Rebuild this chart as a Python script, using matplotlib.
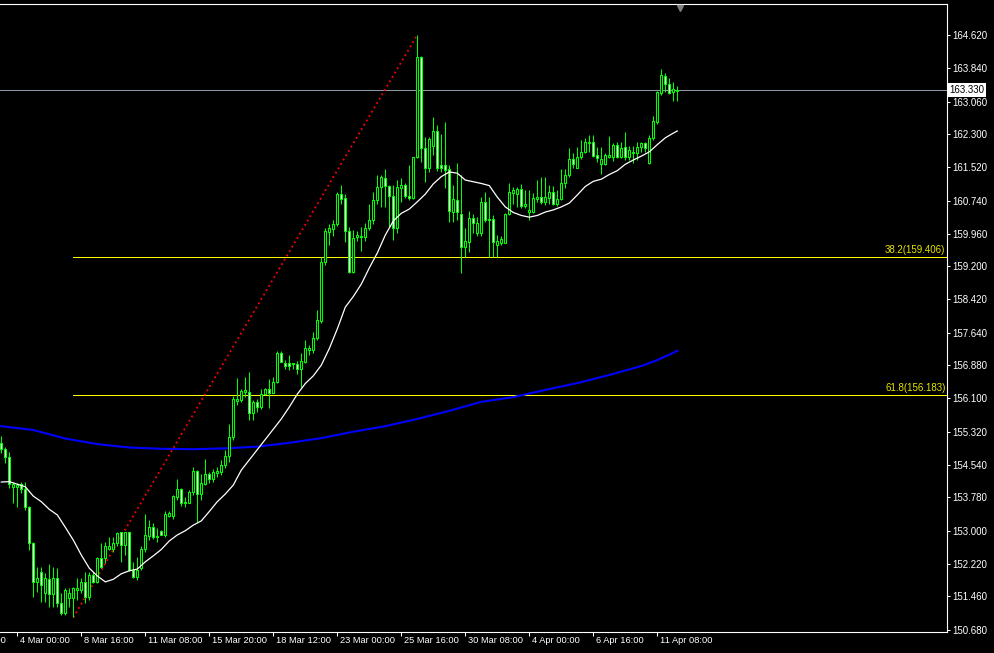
import matplotlib
matplotlib.use("Agg")
import matplotlib.pyplot as plt
import matplotlib.transforms as mtransforms
from matplotlib.patches import Rectangle
from matplotlib.collections import PatchCollection
import numpy as np

# ---------------- data (GBPJPY H4) ----------------
opens = [155.06, 154.92, 154.72, 154.03, 154.03, 154.09, 153.98, 153.56, 152.71, 151.80,
         152.02, 151.53, 151.87, 151.52, 151.89, 151.31, 151.07, 151.42, 151.42, 151.61,
         151.61, 151.80, 151.45, 151.96, 151.80, 152.35, 152.36, 152.58, 152.56, 152.71,
         152.96, 152.67, 152.97, 152.09, 151.92, 152.12, 152.56, 152.88, 153.08, 152.85,
         152.99, 152.90, 153.35, 153.35, 153.80, 153.97, 153.68, 153.66, 153.90, 154.40,
         153.85, 154.09, 154.33, 154.21, 154.36, 154.38, 154.54, 154.76, 155.20, 156.05,
         156.06, 156.26, 156.26, 155.76, 156.01, 155.89, 156.20, 156.32, 156.23, 156.49,
         157.16, 156.94, 156.92, 156.92, 156.91, 156.80, 156.96, 157.24, 157.24, 157.51,
         157.92, 159.31, 160.01, 160.07, 160.18, 160.89, 160.79, 160.03, 159.06, 159.88,
         159.89, 159.89, 160.09, 160.28, 160.75, 161.06, 161.26, 161.09, 160.85, 160.09,
         161.04, 161.10, 160.85, 160.81, 161.75, 164.10, 161.96, 161.51, 162.02, 162.37,
         161.57, 161.57, 161.48, 160.48, 160.75, 160.42, 159.66, 159.77, 160.32, 159.97,
         159.97, 160.71, 160.31, 160.31, 159.70, 159.74, 159.75, 160.42, 160.91, 160.89,
         161.00, 160.60, 160.48, 160.48, 160.77, 160.82, 160.71, 160.81, 160.95, 160.67,
         160.77, 161.14, 161.34, 161.71, 161.51, 161.77, 161.87, 162.08, 162.11, 161.81,
         161.60, 161.60, 161.76, 161.76, 162.04, 161.76, 161.99, 161.77, 161.85, 161.86,
         161.99, 162.08, 161.63, 162.20, 162.59, 163.25, 163.66, 163.46, 163.29, 163.31]
highs = [155.22, 154.97, 154.85, 154.15, 154.12, 154.13, 154.14, 153.58, 152.73, 152.16,
         152.16, 152.01, 152.22, 152.16, 152.13, 151.54, 151.66, 151.66, 151.69, 151.89,
         151.89, 152.02, 152.02, 152.02, 152.39, 152.72, 152.74, 152.85, 152.85, 152.98,
         152.98, 152.98, 152.98, 152.27, 152.39, 152.63, 153.38, 153.25, 153.18, 153.06,
         153.02, 153.45, 153.45, 153.84, 154.21, 153.99, 153.80, 153.95, 154.50, 154.42,
         154.33, 154.68, 154.38, 154.45, 154.50, 154.66, 154.89, 155.49, 156.16, 156.57,
         156.31, 156.61, 156.73, 156.06, 156.08, 156.32, 156.35, 156.55, 156.61, 157.21,
         157.21, 156.99, 157.12, 156.93, 156.98, 157.17, 157.48, 157.35, 157.66, 158.17,
         159.41, 160.09, 160.18, 160.28, 160.95, 161.10, 160.89, 160.13, 160.05, 160.03,
         160.13, 160.21, 160.67, 160.93, 161.34, 161.34, 161.48, 161.10, 161.10, 161.22,
         161.26, 161.14, 161.57, 161.76, 164.62, 164.13, 162.24, 162.24, 162.70, 162.51,
         162.29, 162.59, 161.57, 161.10, 161.62, 161.35, 160.09, 160.50, 160.42, 160.36,
         160.83, 160.95, 160.83, 160.40, 159.93, 159.91, 160.44, 161.16, 161.06, 161.06,
         161.13, 160.99, 160.99, 160.91, 161.22, 161.30, 161.30, 161.10, 161.09, 160.99,
         161.49, 161.49, 161.96, 161.85, 162.00, 162.16, 162.20, 162.28, 162.28, 161.99,
         161.99, 161.85, 162.25, 162.08, 162.12, 162.12, 162.34, 162.02, 162.02, 162.12,
         162.12, 162.12, 162.28, 162.71, 163.31, 163.82, 163.72, 163.61, 163.53, 163.42]
lows = [154.82, 154.59, 153.99, 153.65, 153.56, 153.88, 153.49, 152.55, 151.45, 151.57,
        151.34, 151.34, 151.22, 151.22, 151.22, 151.02, 151.02, 151.21, 150.97, 151.38,
        151.54, 151.30, 151.38, 151.77, 151.77, 152.13, 152.24, 152.55, 152.50, 152.63,
        152.27, 152.43, 152.06, 151.88, 151.85, 152.08, 152.50, 152.78, 152.80, 152.74,
        152.90, 152.86, 153.31, 153.28, 153.72, 153.58, 153.56, 153.64, 153.84, 153.21,
        153.72, 154.07, 154.11, 154.15, 154.27, 154.31, 154.46, 154.62, 155.13, 155.95,
        156.02, 156.14, 155.60, 155.60, 155.79, 155.85, 156.18, 155.88, 156.22, 156.47,
        156.96, 156.78, 156.76, 156.79, 156.67, 156.38, 156.93, 157.12, 157.16, 157.47,
        157.88, 159.23, 159.70, 159.91, 160.14, 160.67, 159.77, 159.03, 159.03, 159.78,
        159.56, 159.78, 160.05, 160.18, 160.67, 160.59, 160.59, 160.13, 159.81, 159.97,
        160.71, 160.79, 160.75, 160.78, 161.73, 161.64, 161.18, 161.42, 161.81, 161.43,
        161.42, 161.03, 160.24, 160.23, 160.28, 159.03, 159.42, 159.54, 159.97, 159.91,
        159.91, 160.24, 159.42, 159.42, 159.42, 159.70, 159.74, 160.40, 160.67, 160.59,
        160.56, 160.56, 160.28, 160.44, 160.71, 160.67, 160.63, 160.67, 160.63, 160.61,
        160.75, 161.03, 161.30, 161.50, 161.50, 161.71, 161.85, 161.88, 161.77, 161.65,
        161.36, 161.57, 161.73, 161.67, 161.73, 161.73, 161.69, 161.69, 161.63, 161.69,
        161.88, 161.88, 161.60, 162.16, 162.53, 163.21, 163.29, 163.24, 163.08, 163.08]
closes = [154.92, 154.72, 154.09, 154.09, 154.07, 153.98, 153.56, 152.71, 151.80, 151.89,
          151.73, 151.88, 151.52, 151.89, 151.31, 151.07, 151.61, 151.54, 151.66, 151.66,
          151.80, 151.45, 151.96, 151.80, 152.35, 152.16, 152.63, 152.64, 152.71, 152.95,
          152.67, 152.97, 152.09, 151.92, 152.09, 152.56, 152.90, 153.08, 152.85, 152.88,
          152.91, 153.39, 153.41, 153.81, 153.97, 153.66, 153.64, 153.90, 154.40, 153.85,
          154.11, 154.32, 154.21, 154.38, 154.40, 154.54, 154.76, 155.20, 156.08, 156.09,
          156.28, 156.30, 155.76, 156.01, 155.89, 156.20, 156.32, 156.23, 156.49, 157.17,
          156.96, 156.85, 156.87, 156.90, 156.79, 156.98, 157.28, 157.28, 157.51, 157.94,
          159.31, 160.03, 160.09, 160.18, 160.89, 160.78, 160.03, 159.06, 159.87, 159.93,
          159.92, 160.09, 160.28, 160.75, 161.06, 161.28, 161.09, 160.85, 160.09, 161.05,
          161.10, 160.85, 160.81, 161.75, 164.10, 161.96, 161.51, 162.18, 162.37, 161.51,
          161.51, 161.46, 160.49, 160.78, 160.48, 159.66, 159.79, 160.32, 160.21, 160.21,
          160.71, 160.28, 160.28, 159.77, 159.80, 159.84, 160.42, 160.95, 160.99, 161.00,
          160.61, 160.67, 160.52, 160.79, 160.83, 160.71, 160.82, 160.93, 160.67, 160.77,
          161.14, 161.34, 161.71, 161.60, 161.77, 161.87, 162.11, 162.11, 161.79, 161.73,
          161.71, 161.81, 161.81, 162.04, 161.76, 161.97, 161.77, 161.92, 161.88, 161.99,
          162.09, 161.96, 162.20, 162.60, 163.28, 163.68, 163.46, 163.27, 163.35, 163.33]

# moving averages, read every two bars (fast) / eight bars (slow)
ma_fast_idx = list(range(0, 170, 2)) + [169]
ma_fast = [154.14, 154.15, 154.09, 154.03, 153.81, 153.68, 153.50, 153.37, 153.08, 152.78,
           152.43, 152.12, 151.94, 151.80, 151.86, 151.99, 152.06, 152.10, 152.27, 152.41,
           152.56, 152.76, 152.90, 153.00, 153.13, 153.23, 153.45, 153.68, 153.86, 154.07,
           154.42, 154.66, 154.90, 155.14, 155.38, 155.62, 155.90, 156.20, 156.45, 156.63,
           156.88, 157.27, 157.73, 158.24, 158.49, 158.78, 159.16, 159.51, 159.93, 160.26,
           160.44, 160.54, 160.71, 160.89, 161.13, 161.30, 161.41, 161.38, 161.22, 161.18,
           161.14, 161.09, 160.82, 160.59, 160.46, 160.39, 160.35, 160.39, 160.47, 160.52,
           160.59, 160.68, 160.87, 161.07, 161.19, 161.24, 161.35, 161.44, 161.59, 161.69,
           161.78, 161.88, 162.05, 162.21, 162.32, 162.37]
ma_slow_idx = [0, 8, 16, 24, 32, 40, 48, 56, 64, 72, 80, 88, 96, 104, 112, 120, 128, 136,
               144, 152, 160, 164, 168, 169]
ma_slow = [155.45, 155.36, 155.16, 155.03, 154.95, 154.92, 154.91, 154.93, 154.97, 155.06,
           155.17, 155.32, 155.45, 155.62, 155.81, 156.02, 156.13, 156.30, 156.46, 156.65,
           156.86, 157.00, 157.17, 157.22]

# fibonacci retracement (swing low -> swing high)
swing_idx = [18, 104]
swing_price = [150.966, 164.623]
fib_levels = ["38.2", "61.8"]
fib_prices = [159.406, 156.183]
current_price = 163.330

# axis labels
ytick_vals = [164.620, 163.840, 163.060, 162.300, 161.520, 160.740, 159.960, 159.200,
              158.420, 157.640, 156.880, 156.100, 155.320, 154.540, 153.780, 153.000,
              152.220, 151.460, 150.680]
xtick_idx = [-12, 4, 20, 36, 52, 68, 84, 100, 116, 132, 148, 164]
xtick_labels = ["1 Mar 08:00", "4 Mar 00:00", "8 Mar 16:00", "11 Mar 08:00", "15 Mar 20:00",
                "18 Mar 12:00", "23 Mar 00:00", "25 Mar 16:00", "30 Mar 08:00",
                "4 Apr 00:00", "6 Apr 16:00", "11 Apr 08:00"]

# ---------------- drawing ----------------
W, H = 994, 653
fig = plt.figure(figsize=(W / 100, H / 100), dpi=100, facecolor="black")
ax = fig.add_axes([0, 21 / H, 946.5 / W, 628 / H])
ax.set_facecolor("black")

n = len(opens)
idx = np.arange(n)
xmin, xmax = -0.325, 236.3
ax.set_xlim(xmin, xmax)
ax.set_ylim(150.625, 165.347)

green = "#00FF00"
lw1 = 0.75  # ~1 px
px1 = 0.72  # exactly one pixel at 100 dpi

# fib levels and current price line (behind candles)
ax.hlines(fib_prices, swing_idx[0], xmax, color="#FFFF00", lw=px1, zorder=1, antialiased=False)
ax.axhline(current_price, color="#8C98A8", lw=px1, zorder=1, antialiased=False)

# moving averages
ax.plot(ma_slow_idx, ma_slow, color="#0000FF", lw=1.5, zorder=2)
ax.plot(ma_fast_idx, ma_fast, color="white", lw=0.9, zorder=4)

# trend line of the fib
ax.plot(swing_idx, swing_price, color="#FF0000", lw=1.3, ls=(0, (1, 1.8)), zorder=2)

# candles
ax.vlines(idx, lows, highs, color=green, lw=lw1, zorder=3)
rects = []
faces = []
for i in range(n):
    o, c = opens[i], closes[i]
    lo, hi = min(o, c), max(o, c)
    rects.append(Rectangle((i - 0.25, lo), 0.5, max(hi - lo, 0.004)))
    faces.append("black" if c >= o else "white")
pc = PatchCollection(rects, facecolors=faces, edgecolors=green, linewidths=lw1, zorder=3.5)
ax.add_collection(pc)

# fib labels
ytrans = mtransforms.blended_transform_factory(ax.transAxes, ax.transData)
for lvl, p in zip(fib_levels, fib_prices):
    ax.text(0.999, p, f"{lvl}({p:.3f})",
            transform=ytrans + mtransforms.ScaledTranslation(0, 2 / 100, fig.dpi_scale_trans),
            ha="right", va="bottom", color="#E6E600", fontsize=7, family="Liberation Sans")

# current price box
ax.text(1.0, current_price, f"{current_price:.3f}",
        transform=ytrans + mtransforms.ScaledTranslation(3 / 100, 0, fig.dpi_scale_trans),
        ha="left", va="center", color="black", fontsize=7, family="Liberation Sans",
        bbox=dict(facecolor="white", edgecolor="none", pad=1.2), clip_on=False, zorder=10)

# y axis on the right
ax.yaxis.tick_right()
ax.set_yticks(ytick_vals)
ax.set_yticklabels([f"{v:.3f}" for v in ytick_vals])
ax.tick_params(axis="y", colors="white", length=2.5, width=0.75, pad=1.5, labelsize=7)
for t in ax.get_yticklabels():
    t.set_family("Liberation Sans")

# x axis ticks and labels
ax.set_xticks([t for t in xtick_idx if t >= xmin])
ax.set_xticklabels([])
ax.tick_params(axis="x", colors="white", length=3, width=0.75, direction="out")
xtrans = mtransforms.blended_transform_factory(ax.transData, ax.transAxes)
for t, lbl in zip(xtick_idx, xtick_labels):
    ax.text(t + 0.7, -0.006, lbl, transform=xtrans, ha="left", va="top", color="white",
            fontsize=6.7, family="Liberation Sans", clip_on=False)

# chart shift marker
ax.plot([169.7], [0.993], transform=xtrans, marker="v", color="#808080", ms=5,
        clip_on=False, zorder=5)

for s in ["top", "right", "bottom"]:
    ax.spines[s].set_color("white")
    ax.spines[s].set_linewidth(0.8)
ax.spines["left"].set_visible(False)

fig.savefig("out.png", dpi=100, facecolor="black")
